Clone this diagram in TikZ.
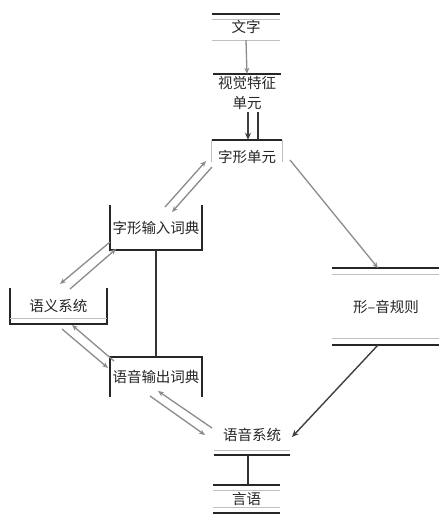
\documentclass[tikz,border=0pt]{standalone}
\usepackage{fontspec}
\newfontfamily\cjk{Noto Sans CJK SC}
\usetikzlibrary{arrows.meta,calc}
\begin{document}
\begin{tikzpicture}[x=1pt,y=-1pt,
  lbl/.style={font=\cjk\fontsize{14.5}{20}\selectfont, inner sep=0pt, align=center, text=black!85},
  bar/.style={line width=1.6pt, black!85},
  faint/.style={line width=1pt, black!25},
  link/.style={line width=1.3pt, black!45, -{Stealth[length=6pt,width=5pt]}},
  dark/.style={line width=1.4pt, black!75, -{Stealth[length=7pt,width=6pt]}},
  plain/.style={line width=1.5pt, black!80}]
\useasboundingbox (0,0) rectangle (439,515);
\fill[white] (0,0) rectangle (439,515);

% nodes
\node[lbl, minimum width=68pt, minimum height=26pt] (wz) at (246,27) {文字};
\node[lbl, minimum width=68pt, minimum height=38pt] (sj) at (247,93) {视觉特征\\单元};
\node[lbl, minimum width=70pt, minimum height=34pt] (zxdy) at (247,157) {字形单元};
\node[lbl, minimum width=92pt, minimum height=45pt] (zxsr) at (156,227.5) {字形输入词典};
\node[lbl, minimum width=97pt, minimum height=35pt] (yy) at (58.5,306) {语义系统};
\node[lbl, minimum width=92pt, minimum height=40pt] (ysc) at (156,377) {语音输出词典};
\node[lbl, minimum width=108pt, minimum height=77pt] (xy) at (386,306.5) {形–音规则};
\node[lbl, minimum width=76pt, minimum height=40pt] (yyxt) at (252,435) {语音系统};
\node[lbl, minimum width=67pt, minimum height=28pt] (yanyu) at (246.5,499) {言语};

% box decorations
\draw[bar] (wz.north west) -- (wz.north east);
\draw[faint] (wz.south west) -- (wz.south east);
\draw[faint] ([yshift=-6pt]wz.north west) -- ([yshift=-6pt]wz.north east);
\draw[bar] (sj.north west) -- (sj.north east);
\draw[bar] (zxdy.north west) -- (zxdy.north east);
\draw[faint] (zxdy.north west) -- ([yshift=12pt]zxdy.south west);
\draw[faint] (zxdy.north east) -- ([yshift=12pt]zxdy.south east);
\draw[bar] (zxsr.north west) -- (zxsr.south west) -- (zxsr.south east) -- (zxsr.north east);
\draw[bar] (yy.north west) -- (yy.south west) -- (yy.south east) -- (yy.north east);
\draw[faint] ([yshift=5pt]yy.south west) -- ([yshift=5pt]yy.south east);
\draw[bar] (ysc.south west) -- (ysc.north west) -- (ysc.north east) -- (ysc.south east);
\draw[bar] (xy.north west) -- (xy.north east);
\draw[bar] (xy.south west) -- (xy.south east);
\draw[faint] ([yshift=-7pt]xy.north west) -- ([yshift=-7pt]xy.north east);
\draw[faint] ([yshift=7pt]xy.south west) -- ([yshift=7pt]xy.south east);
\draw[bar] (yyxt.south west) -- (yyxt.south east);
\draw[faint] ([yshift=5pt]yyxt.south west) -- ([yshift=5pt]yyxt.south east);
\draw[bar] (yanyu.north west) -- (yanyu.north east);
\draw[bar] (yanyu.south west) -- (yanyu.south east);
\draw[faint] ([yshift=-6pt]yanyu.north west) -- ([yshift=-6pt]yanyu.north east);
\draw[faint] ([yshift=6pt]yanyu.south west) -- ([yshift=6pt]yanyu.south east);

% connector end points
\coordinate (a1) at (165,207); \coordinate (a2) at (206,161);
\coordinate (b1) at (172,212); \coordinate (b2) at (212,167);
\coordinate (c1) at (60,284);  \coordinate (c2) at (110,242);
\coordinate (d1) at (70,289);  \coordinate (d2) at (116,249);
\coordinate (e1) at (62,329);  \coordinate (e2) at (108,368);
\coordinate (f1) at (72,325);  \coordinate (f2) at (114,361);
\coordinate (g1) at (150,396); \coordinate (g2) at (205,435);
\coordinate (h1) at (158,391); \coordinate (h2) at (212,428);
\coordinate (r1) at (290,160); \coordinate (r2) at (378,268);
\coordinate (s1) at (378,345); \coordinate (s2) at (292,437);

% connectors
\draw[link] (wz.south) -- (sj.north);
\draw[dark] ([xshift=1pt]sj.south) -- ([xshift=1pt]zxdy.north);
\draw[plain] ([xshift=11pt]sj.south) -- ([xshift=11pt]zxdy.north);
\draw[link] (a1) -- (a2);
\draw[link] (b2) -- (b1);
\draw[link] (c2) -- (c1);
\draw[link] (d1) -- (d2);
\draw[link] (e1) -- (e2);
\draw[link] (f2) -- (f1);
\draw[link] (g1) -- (g2);
\draw[link] (h2) -- (h1);
\draw[link] (r1) -- (r2);
\draw[dark] (s1) -- (s2);
\draw[plain] (zxsr.south) -- (ysc.north);
\draw[plain] ([xshift=1.5pt]yanyu.north |- yyxt.south) -- ([xshift=1.5pt]yanyu.north);
\end{tikzpicture}
\end{document}
